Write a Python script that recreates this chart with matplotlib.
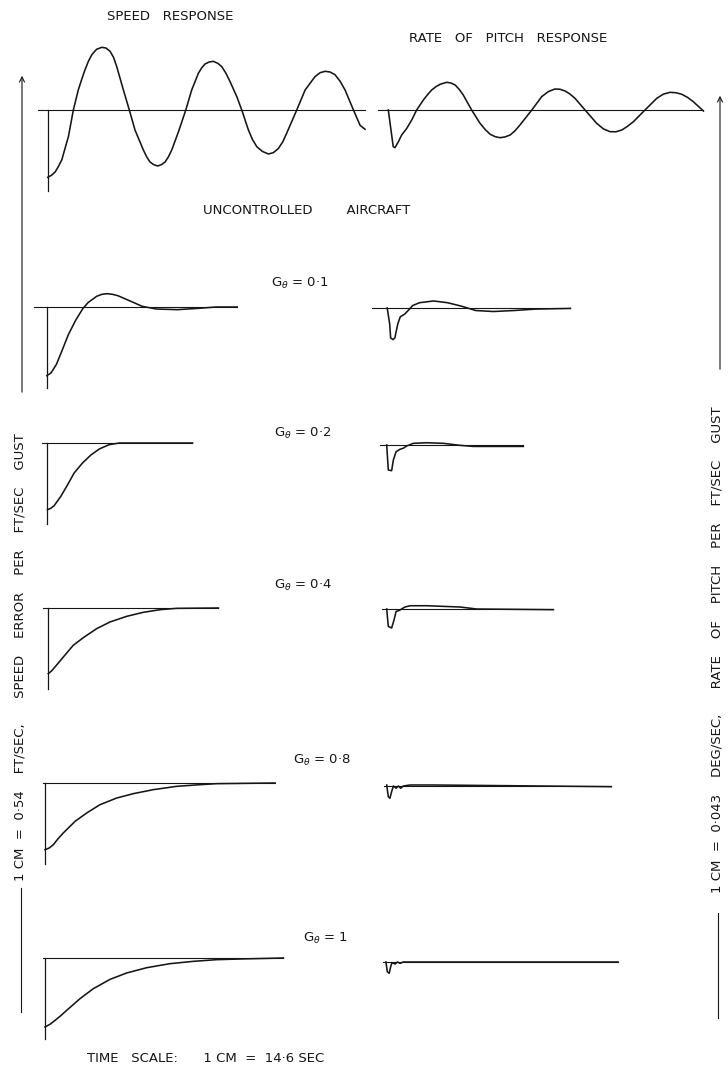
import matplotlib

matplotlib.use("Agg")
import matplotlib.pyplot as plt

W, H = 728, 1072
PX_PER_CM = 36.0
SEC_PER_CM = 14.6       # time scale
SPEED_PER_CM = 0.54     # ft/sec speed error per ft/sec gust
PITCH_PER_CM = 0.043    # deg/sec rate of pitch per ft/sec gust
AXIS_DEPTH = 1.22       # length of the t=0 line below the speed datum

INK = "#161616"
FONT = "DejaVu Sans"

# ---- uncontrolled aircraft ----
SPEED_FREE_T = [0.0, 1.5, 3.0, 4.3, 5.7, 7.0, 8.4, 9.4, 10.4, 11.4, 12.4, 13.8, 15.1, 16.5,
                17.9, 19.8, 21.9, 23.6, 25.3, 26.7, 28.0, 30.7, 33.1, 35.4, 38.8, 40.1, 41.5,
                43.0, 44.6, 46.1, 47.6, 49.0, 50.3, 53.0, 56.0, 58.4, 61.1, 62.4, 63.8, 65.5,
                67.2, 69.0, 70.6, 72.3, 73.9, 76.7, 78.7, 81.4, 83.0, 84.8, 87.0, 89.5, 91.5,
                93.5, 95.3, 96.9, 101.0, 104.4, 108.4, 110.5, 112.5, 114.5, 116.5, 118.6,
                120.6, 124.0, 126.7, 128.7]
SPEED_FREE_U = [-1.01, -0.98, -0.93, -0.85, -0.75, -0.58, -0.40, -0.20, 0.0, 0.15, 0.30, 0.46,
                0.60, 0.73, 0.83, 0.91, 0.94, 0.93, 0.88, 0.79, 0.65, 0.30, 0.0, -0.30, -0.60,
                -0.70, -0.78, -0.82, -0.84, -0.82, -0.78, -0.70, -0.60, -0.33, 0.0, 0.30, 0.55,
                0.63, 0.69, 0.72, 0.73, 0.70, 0.65, 0.55, 0.43, 0.20, 0.0, -0.30, -0.44, -0.55,
                -0.62, -0.66, -0.64, -0.58, -0.48, -0.35, 0.0, 0.30, 0.50, 0.56, 0.58, 0.57,
                0.53, 0.43, 0.30, 0.0, -0.23, -0.29]
PITCH_FREE_T = [0.0, 2.0, 2.7, 4.1, 5.4, 7.5, 9.5, 11.5, 14.2, 15.9, 17.6, 19.3, 21.0, 23.7,
                25.4, 27.1, 28.8, 30.4, 33.8, 37.2, 39.2, 41.3, 43.3, 45.3, 47.3, 49.4, 51.4,
                53.4, 58.2, 62.2, 64.9, 67.6, 69.6, 71.7, 73.7, 75.7, 79.8, 84.5, 87.2, 89.9,
                92.3, 94.7, 97.0, 99.4, 104.1, 108.9, 111.6, 114.3, 116.7, 119.0, 121.4,
                123.7, 127.8]
PITCH_FREE_Q = [0.0, -0.0438, -0.0450, -0.0379, -0.0299, -0.0219, -0.0119, 0.0, 0.0119, 0.0182,
                0.0239, 0.0278, 0.0307, 0.0331, 0.0322, 0.0299, 0.0245, 0.0179, 0.0, -0.0159,
                -0.0230, -0.0290, -0.0318, -0.0331, -0.0322, -0.0299, -0.0248, -0.0179, 0.0,
                0.0159, 0.0220, 0.0251, 0.0248, 0.0227, 0.0190, 0.0140, 0.0, -0.0159, -0.0225,
                -0.0259, -0.0260, -0.0239, -0.0195, -0.0140, 0.0, 0.0140, 0.0190, 0.0211,
                0.0206, 0.0188, 0.0150, 0.0099, -0.0012]

# ---- controlled aircraft, one entry per gain ----
GAINS = ["0·1", "0·2", "0·4", "0·8", "1"]

SPEED_T = [
    [0.0, 1.7, 3.9, 6.0, 8.8, 11.7, 14.5, 16.7, 20.2, 22.3, 24.5, 26.7, 28.8, 33.8, 38.7,
     44.4, 53.0, 61.5, 68.6, 77.2],
    [0.0, 1.3, 2.7, 5.4, 8.1, 10.8, 14.2, 17.6, 21.0, 25.0, 29.1, 58.8],
    [0.0, 1.3, 2.7, 4.3, 6.1, 10.1, 14.2, 19.6, 25.0, 31.8, 38.5, 45.3, 52.1, 69.0],
    [0.0, 1.7, 3.4, 5.2, 7.4, 12.2, 16.9, 22.3, 29.1, 35.8, 43.9, 53.4, 62.9, 69.6, 93.3],
    [0.0, 2.0, 4.1, 6.4, 8.8, 14.2, 19.6, 26.4, 33.1, 41.3, 50.7, 60.2, 69.6, 79.1, 96.7],
]
SPEED_U = [
    [-1.03, -0.99, -0.86, -0.67, -0.41, -0.20, -0.03, 0.065, 0.16, 0.19, 0.20, 0.19, 0.17,
     0.09, 0.01, -0.03, -0.04, -0.02, 0.0, 0.0],
    [-1.0, -0.98, -0.94, -0.80, -0.63, -0.45, -0.30, -0.18, -0.09, -0.025, 0.0, 0.0],
    [-0.985, -0.945, -0.885, -0.815, -0.735, -0.56, -0.445, -0.31, -0.21, -0.125, -0.065,
     -0.025, -0.005, 0.0],
    [-1.0, -0.975, -0.925, -0.84, -0.75, -0.575, -0.45, -0.325, -0.225, -0.16, -0.10, -0.05,
     -0.025, -0.01, 0.0],
    [-1.035, -0.995, -0.935, -0.865, -0.785, -0.61, -0.46, -0.32, -0.225, -0.145, -0.085,
     -0.05, -0.025, -0.015, 0.0],
]
PITCH_T = [
    [0.0, 1.0, 1.4, 2.4, 3.1, 4.3, 5.3, 7.1, 8.8, 10.3, 13.1, 18.8, 24.5, 30.2, 35.9, 43.0,
     51.5, 60.1, 74.3],
    [0.0, 0.65, 2.0, 2.7, 3.8, 5.4, 6.7, 8.1, 10.8, 16.2, 23.0, 29.7, 35.1, 55.4],
    [0.0, 0.65, 2.0, 3.0, 3.8, 5.1, 7.4, 9.5, 16.2, 29.7, 36.5, 67.6],
    [0.0, 0.65, 1.3, 2.0, 2.7, 3.8, 4.7, 5.7, 6.7, 9.5, 18.9, 91.1],
    [0.0, 0.5, 1.3, 1.9, 2.4, 3.7, 4.6, 5.7, 7.0, 94.1],
]
PITCH_Q = [
    [0.0, -0.0189, -0.0358, -0.0377, -0.0358, -0.0189, -0.0105, -0.0072, -0.0021, 0.0029,
     0.0063, 0.0084, 0.0063, 0.0021, -0.0030, -0.0042, -0.0030, -0.0013, -0.0005],
    [0.0, -0.0299, -0.0307, -0.0179, -0.0080, -0.0051, -0.0039, -0.0012, 0.0020, 0.0027,
     0.0020, -0.0004, -0.0017, -0.0017],
    [0.0, -0.0208, -0.0227, -0.0128, -0.0029, -0.0017, 0.0024, 0.0039, 0.0039, 0.0024, 0.0,
     -0.0008],
    [0.0012, -0.0128, -0.0147, -0.0068, 0.0, -0.0027, 0.0, -0.0027, 0.0, 0.0012, 0.0012,
     -0.0008],
    [0.0, -0.0116, -0.0135, -0.0056, -0.0008, -0.0024, 0.0, -0.0016, 0.0, 0.0],
]

# sheet layout in pixels: (x of t=0, y of datum, datum lead before t=0)
SPEED_ORIGINS = [(47.7, 110, 10), (46.8, 307, 13), (47.5, 443, 5),
                 (48.3, 608, 5), (45, 783, 2), (45, 958, 2)]
PITCH_ORIGINS = [(388.3, 110, 10), (387.2, 308, 15), (386.7, 445, 7),
                 (386.7, 609, 5), (386.7, 786, 3), (386, 962, 3)]
GAIN_LABEL_POS = [(300, 283), (303, 433), (303, 585), (322, 760), (326, 938)]


def trace_axes(fig, x0, y0, per_cm):
    """Full-sheet axes whose data origin sits at pixel (x0, y0)."""
    ax = fig.add_axes([0, 0, 1, 1])
    sx = SEC_PER_CM / PX_PER_CM
    sy = per_cm / PX_PER_CM
    ax.set_xlim(-x0 * sx, (W - x0) * sx)
    ax.set_ylim((y0 - H) * sy, y0 * sy)
    ax.axis("off")
    ax.patch.set_alpha(0)
    return ax, sx


def draw_trace(fig, origin, per_cm, t, y, axis_line=False):
    x0, y0, lead = origin
    ax, sx = trace_axes(fig, x0, y0, per_cm)
    ax.plot([t[0] - lead * sx, t[-1]], [0, 0], color=INK, lw=0.8)
    if axis_line:
        ax.plot([0, 0], [0, -AXIS_DEPTH], color=INK, lw=0.9)
    ax.plot(t, y, color=INK, lw=1.15, solid_joinstyle="round")


fig = plt.figure(figsize=(W / 100, H / 100), dpi=100)

draw_trace(fig, SPEED_ORIGINS[0], SPEED_PER_CM, SPEED_FREE_T, SPEED_FREE_U, axis_line=True)
draw_trace(fig, PITCH_ORIGINS[0], PITCH_PER_CM, PITCH_FREE_T, PITCH_FREE_Q)
for i in range(len(GAINS)):
    draw_trace(fig, SPEED_ORIGINS[i + 1], SPEED_PER_CM, SPEED_T[i], SPEED_U[i], axis_line=True)
    draw_trace(fig, PITCH_ORIGINS[i + 1], PITCH_PER_CM, PITCH_T[i], PITCH_Q[i])

# lettering and scale lines, in sheet pixels
sheet = fig.add_axes([0, 0, 1, 1])
sheet.set_xlim(0, W)
sheet.set_ylim(H, 0)
sheet.axis("off")
sheet.patch.set_alpha(0)

txt = dict(color=INK, family=FONT, fontsize=9.5, ha="center", va="center")
sheet.text(170, 17, "SPEED   RESPONSE", **txt)
sheet.text(508, 39, "RATE   OF   PITCH   RESPONSE", **txt)
sheet.text(307, 210, "UNCONTROLLED        AIRCRAFT", **txt)
for g, (gx, gy) in zip(GAINS, GAIN_LABEL_POS):
    sheet.text(gx, gy, r"G$_\theta$ = " + g, **txt)
sheet.text(206, 1058, "TIME   SCALE:      1 CM  =  14·6 SEC", **txt)

sheet.text(20, 657, "1 CM  =  0·54    FT/SEC,      SPEED    ERROR    PER    FT/SEC    GUST",
           rotation=90, **txt)
sheet.text(717, 650, "1 CM  =  0·043    DEG/SEC,      RATE    OF    PITCH    PER    FT/SEC    GUST",
           rotation=90, **txt)

arrow = dict(arrowstyle="->", lw=0.8, color=INK, mutation_scale=9)
sheet.annotate("", xy=(22, 73), xytext=(22, 395), arrowprops=arrow)
sheet.plot([21, 21], [888, 1012], color=INK, lw=0.8)
sheet.annotate("", xy=(720, 93), xytext=(720, 372), arrowprops=arrow)
sheet.plot([718, 718], [913, 1018], color=INK, lw=0.8)

fig.savefig("out.png", dpi=100, facecolor="white")
plt.close(fig)
